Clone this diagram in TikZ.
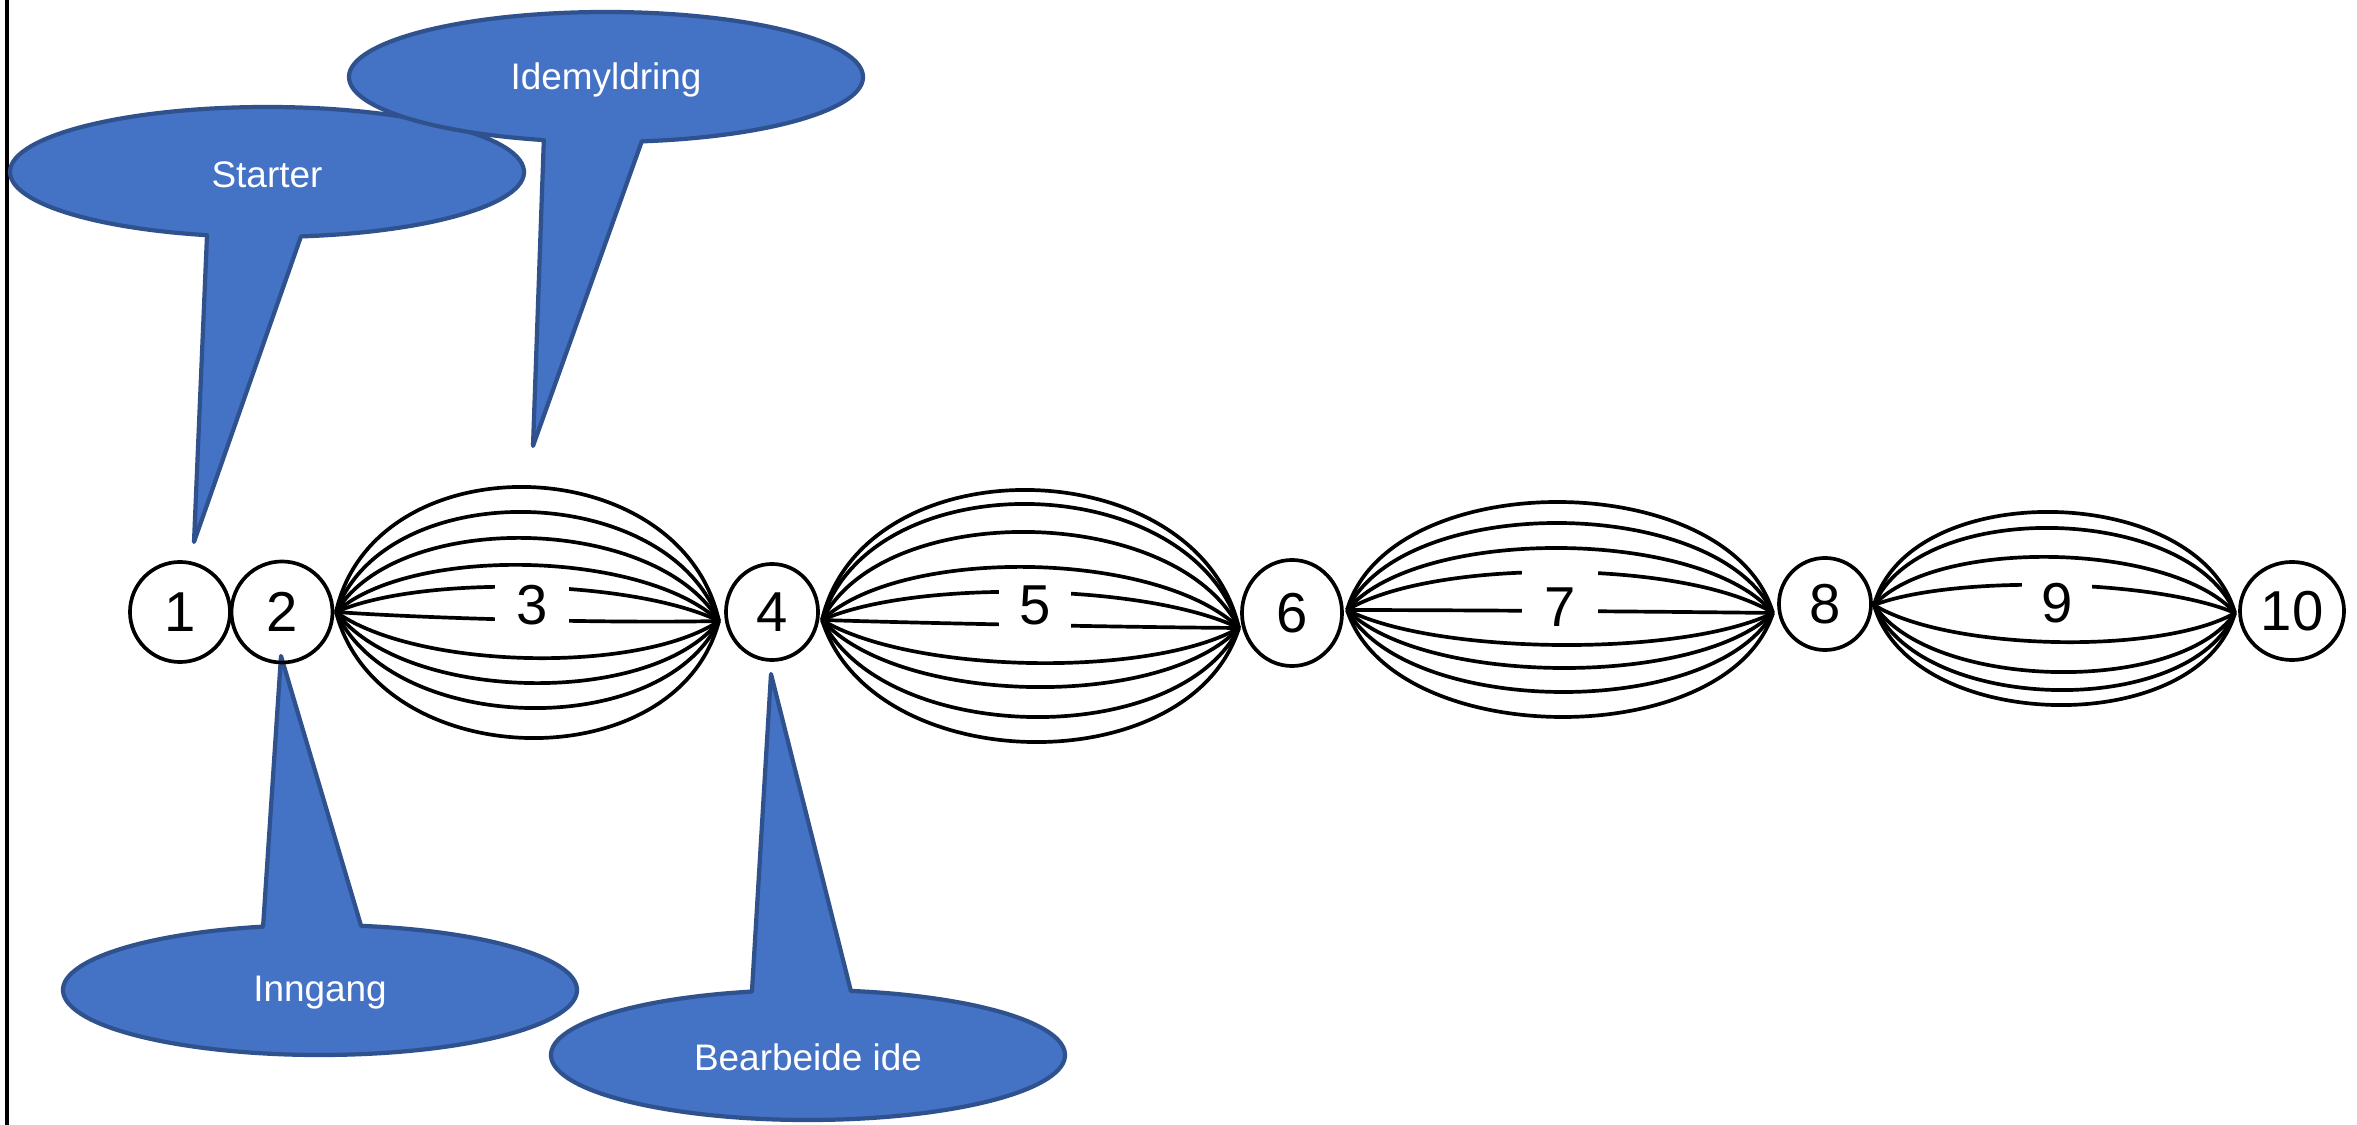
\documentclass[tikz,border=0pt]{standalone}
\usepackage{fontspec}
\setmainfont{Liberation Sans}
\usetikzlibrary{calc,shapes.geometric}
\definecolor{cfill}{HTML}{4472C4}
\definecolor{cline}{HTML}{2F528F}
\newcommand\mylens[4]{%
  \foreach \d in {#4}{%
    \pgfmathsetmacro\fa{0.26-0.16*abs(\d)/#3}%
    \pgfmathsetmacro\fk{4/3*\d}%
    \draw[lensline] (#1) .. controls ($(#1)!\fa!(#2)+(0,\fk)$) and ($(#2)!\fa!(#1)+(0,\fk)$) .. (#2);
  }}
\begin{document}
\begin{tikzpicture}[x=0.01cm,y=0.01cm,
  bubble/.style={fill=cfill,draw=cline,line width=1.2pt,line join=round},
  bubbletext/.style={text=white,font=\fontsize{10.5}{12}\selectfont,inner sep=0pt},
  ring/.style={ellipse,draw,line width=1.05pt,inner sep=0pt,font=\fontsize{16}{16}\selectfont},
  lensline/.style={line width=1.05pt},
  lenslabel/.style={fill=white,inner sep=0pt,anchor=base,font=\fontsize{16}{16}\selectfont}]
\fill[white] (0,0) rectangle (2357,-1125);
\useasboundingbox (0,0) rectangle (2357,-1125);
\draw[line width=0.9pt] (7,0) -- (7,-1125);

% callouts
\path[bubble] (267,-172) ++(277.6:257 and 65) arc[start angle=277.6, end angle=616.5, x radius=257, y radius=65] -- (194,-542) -- cycle;
\node[bubbletext] (starter) at (267,-175) {Starter};
\path[bubble] (606,-77) ++(278:257 and 65) arc[start angle=278, end angle=616, x radius=257, y radius=65] -- (533,-446) -- cycle;
\node[bubbletext] (idem) at (606,-80) {Idemyldring};
\path[bubble] (320,-990) ++(102.8:257 and 65) arc[start angle=102.8, end angle=440.8, x radius=257, y radius=65] -- (281,-656) -- cycle;
\node[bubbletext] (inngang) at (320,-993) {Inngang};
\path[bubble] (808,-1055) ++(102.6:257 and 65) arc[start angle=102.6, end angle=440.4, x radius=257, y radius=65] -- (771,-674) -- cycle;
\node[bubbletext] (bearb) at (808,-1057) {Bearbeide ide};

% rings
\node[ring,minimum width=1.00cm,minimum height=1.00cm] (c1) at (180,-612) {1};
\node[ring,minimum width=1.01cm,minimum height=1.01cm] (c2) at (282,-612) {2};
\node[ring,minimum width=0.92cm,minimum height=0.96cm] (c4) at (772,-612) {4};
\node[ring,minimum width=1.00cm,minimum height=1.06cm] (c6) at (1292,-613) {6};
\node[ring,minimum width=0.92cm,minimum height=0.92cm] (c8) at (1825,-604) {8};
\node[ring,minimum width=1.04cm,minimum height=0.98cm] (c10) at (2292,-611) {10};

% lens apexes
\coordinate (a3l) at (336,-612);  \coordinate (a3r) at (719,-621);
\coordinate (a5l) at (822,-620);  \coordinate (a5r) at (1239,-628);
\coordinate (a7l) at (1347,-610); \coordinate (a7r) at (1773,-613);
\coordinate (a9l) at (1874,-605); \coordinate (a9r) at (2235,-613);

\mylens{a3l}{a3r}{130}{129.5,104.5,78.5,51.5,29.5,-3.5,-41.5,-66.5,-91.5,-121.5}
\mylens{a5l}{a5r}{134}{134,120,92,57,32,-1,-39,-63,-93,-118}
\mylens{a7l}{a7r}{110}{109.5,88.5,63.5,39.5,0.5,-33.5,-56.5,-80.5,-105.5}
\mylens{a9l}{a9r}{97}{97,81,52,24,-33,-63,-81,-96}

% lens labels
\node[lenslabel,text height=0.49cm,text depth=0.06cm,minimum width=0.74cm] (l3) at (532,-625) {3};
\node[lenslabel,text height=0.47cm,text depth=0.08cm,minimum width=0.72cm] (l5) at (1035,-625) {5};
\node[lenslabel,text height=0.65cm,text depth=0.08cm,minimum width=0.76cm] (l7) at (1560,-627) {7};
\node[lenslabel,text height=0.48cm,text depth=0.08cm,minimum width=0.70cm] (l9) at (2057,-623) {9};
\end{tikzpicture}
\end{document}
